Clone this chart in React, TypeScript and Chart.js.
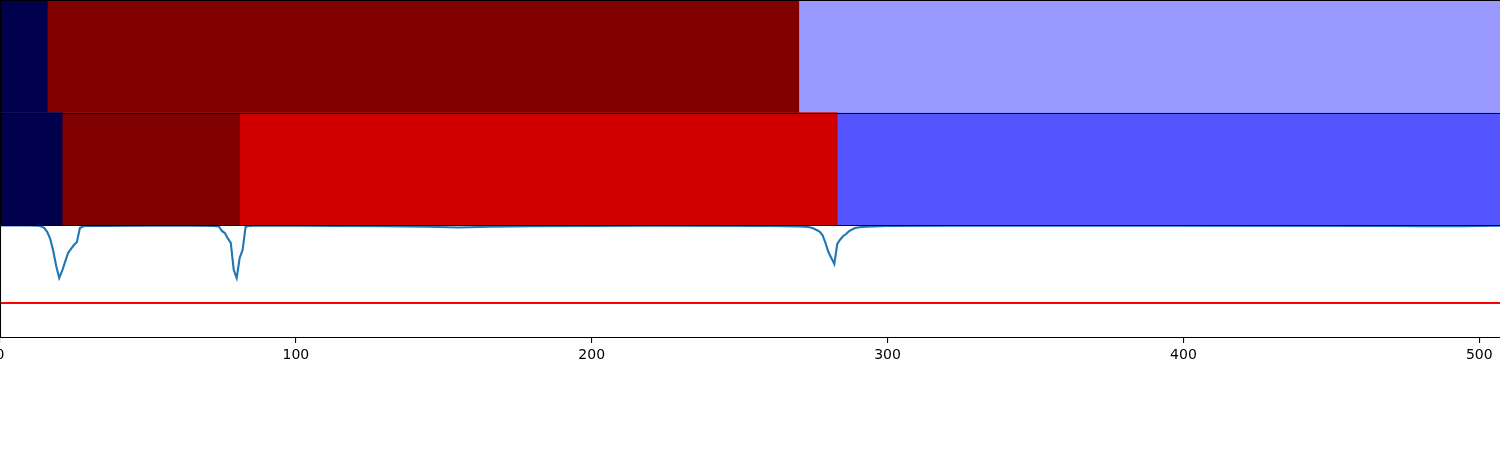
import React, { useEffect, useRef } from "react";
import { Chart, registerables } from "chart.js";

Chart.register(...registerables);

// ---------- data ----------
const X_MAX = 507;
const rowLabels = ["upper", "lower"];

const upperSegments: [number, number][] = [
  [0, 16],
  [16, 270],
  [270, 507],
];
const upperColors = ["#00004d", "#800000", "#9999ff"];

const lowerSegments: [number, number][] = [
  [0, 21],
  [21, 81],
  [81, 283],
  [283, 507],
];
const lowerColors = ["#00004d", "#800000", "#d10000", "#5555ff"];

const signalX = [
  0, 10, 13, 14, 15, 16, 17, 18, 19, 20, 21, 22, 23, 24, 25, 26, 27, 28, 29, 35, 50, 65, 72, 73, 74, 75, 76, 77,
  78, 79, 80, 81, 82, 83, 84, 86, 100, 130, 145, 155, 165, 180, 220, 260, 270, 272, 273, 274, 275, 276, 277, 278,
  279, 280, 281, 282, 283, 284, 285, 286, 287, 288, 289, 290, 291, 295, 300, 320, 400, 470, 480, 495, 500, 507,
];
const signalY = [
  -0.004, -0.004, -0.006, -0.012, -0.027, -0.062, -0.124, -0.23, -0.363, -0.469, -0.407, -0.327, -0.248, -0.212,
  -0.177, -0.15, -0.027, -0.013, -0.009, -0.008, -0.006, -0.006, -0.008, -0.011, -0.013, -0.053, -0.071, -0.119,
  -0.159, -0.398, -0.469, -0.292, -0.221, -0.018, -0.009, -0.007, -0.007, -0.01, -0.016, -0.022, -0.016, -0.01,
  -0.007, -0.008, -0.012, -0.016, -0.018, -0.022, -0.031, -0.044, -0.058, -0.088, -0.159, -0.239, -0.292, -0.345,
  -0.168, -0.128, -0.097, -0.08, -0.053, -0.04, -0.027, -0.022, -0.018, -0.013, -0.009, -0.007, -0.007, -0.008,
  -0.011, -0.011, -0.008, -0.006,
];
const thresholdValue = -0.69;
const xTicks = [0, 100, 200, 300, 400, 500];
const Y_MIN = -1;
const Y_MAX = 0;

// ---------- frame plugin (matplotlib-like spines) ----------
const barFramePlugin = {
  id: "barFrame",
  afterDatasetsDraw(chart: any) {
    const { ctx, chartArea: a } = chart;
    const ys = chart.scales.y;
    const mid = (ys.getPixelForValue(0) + ys.getPixelForValue(1)) / 2;
    ctx.save();
    ctx.strokeStyle = "#000";
    ctx.lineWidth = 1.1;
    ctx.beginPath();
    const l = Math.round(a.left) + 0.5;
    ctx.moveTo(l, a.top);
    ctx.lineTo(l, a.bottom);
    ctx.moveTo(a.left, a.top + 0.5);
    ctx.lineTo(a.right, a.top + 0.5);
    ctx.moveTo(a.left, Math.round(mid) + 0.5);
    ctx.lineTo(a.right, Math.round(mid) + 0.5);
    ctx.stroke();
    ctx.restore();
  },
};

const lineFramePlugin = {
  id: "lineFrame",
  afterDatasetsDraw(chart: any) {
    const { ctx, chartArea: a } = chart;
    ctx.save();
    ctx.strokeStyle = "#000";
    ctx.lineWidth = 1.1;
    ctx.beginPath();
    const l = Math.round(a.left) + 0.5;
    ctx.moveTo(l, a.top);
    ctx.lineTo(l, a.bottom);
    ctx.moveTo(a.left, a.top + 0.5);
    ctx.lineTo(a.right, a.top + 0.5);
    ctx.stroke();
    ctx.restore();
  },
};

export default function App() {
  const barRef = useRef<HTMLCanvasElement | null>(null);
  const lineRef = useRef<HTMLCanvasElement | null>(null);

  useEffect(() => {
    const nSeg = Math.max(upperSegments.length, lowerSegments.length);
    const barDatasets = [];
    for (let i = 0; i < nSeg; i++) {
      barDatasets.push({
        label: "segment " + i,
        data: [upperSegments[i] ?? null, lowerSegments[i] ?? null],
        backgroundColor: [upperColors[i] ?? "#000", lowerColors[i] ?? "#000"],
        borderWidth: 0,
        barPercentage: 1,
        categoryPercentage: 1,
        grouped: false,
      });
    }

    const barChart = new Chart(barRef.current as HTMLCanvasElement, {
      type: "bar",
      data: { labels: rowLabels, datasets: barDatasets as any },
      options: {
        indexAxis: "y",
        responsive: false,
        animation: false,
        layout: { padding: { left: 10, right: 0, top: 0, bottom: 0 } },
        plugins: { legend: { display: false }, tooltip: { enabled: false } },
        scales: {
          x: { type: "linear", display: false, min: 0, max: X_MAX },
          y: { type: "category", display: false, offset: true },
        },
      },
      plugins: [barFramePlugin],
    });

    const signalPoints = signalX.map((x, i) => ({ x, y: signalY[i] }));
    const thresholdPoints = [
      { x: 0, y: thresholdValue },
      { x: X_MAX, y: thresholdValue },
    ];

    const lineChart = new Chart(lineRef.current as HTMLCanvasElement, {
      type: "line",
      data: {
        datasets: [
          {
            label: "signal",
            data: signalPoints,
            borderColor: "#1f77b4",
            borderWidth: 2.1,
            pointRadius: 0,
            tension: 0,
            fill: false,
          },
          {
            label: "threshold",
            data: thresholdPoints,
            borderColor: "#ff0000",
            borderWidth: 2.1,
            pointRadius: 0,
            tension: 0,
            fill: false,
          },
        ],
      },
      options: {
        responsive: false,
        animation: false,
        layout: { padding: { left: 10, right: 0, top: 0, bottom: 0 } },
        plugins: { legend: { display: false }, tooltip: { enabled: false } },
        scales: {
          x: {
            type: "linear",
            min: 0,
            max: X_MAX,
            afterFit: (s: any) => {
              s.height = 112;
            },
            afterBuildTicks: (s: any) => {
              s.ticks = xTicks.map((v) => ({ value: v }));
            },
            ticks: {
              color: "#000",
              font: { family: "DejaVu Sans", size: 14 },
              padding: 4,
              maxRotation: 0,
              autoSkip: false,
            },
            grid: {
              display: true,
              drawOnChartArea: false,
              drawTicks: true,
              tickLength: 5,
              color: "#000",
              lineWidth: 1.1,
            },
            border: { display: true, color: "#000", width: 1.1 },
          },
          y: { type: "linear", display: false, min: Y_MIN, max: Y_MAX },
        },
      },
      plugins: [lineFramePlugin],
    });

    return () => {
      barChart.destroy();
      lineChart.destroy();
    };
  }, []);

  return (
    <div
      style={{
        position: "absolute",
        left: 0,
        top: 0,
        width: 1500,
        height: 450,
        overflow: "hidden",
        background: "#fff",
      }}
    >
      <canvas
        ref={barRef}
        width={1510}
        height={225}
        style={{ position: "absolute", left: -10, top: 0, width: 1510, height: 225, display: "block" }}
      />
      <canvas
        ref={lineRef}
        width={1510}
        height={225}
        style={{ position: "absolute", left: -10, top: 225, width: 1510, height: 225, display: "block" }}
      />
    </div>
  );
}
